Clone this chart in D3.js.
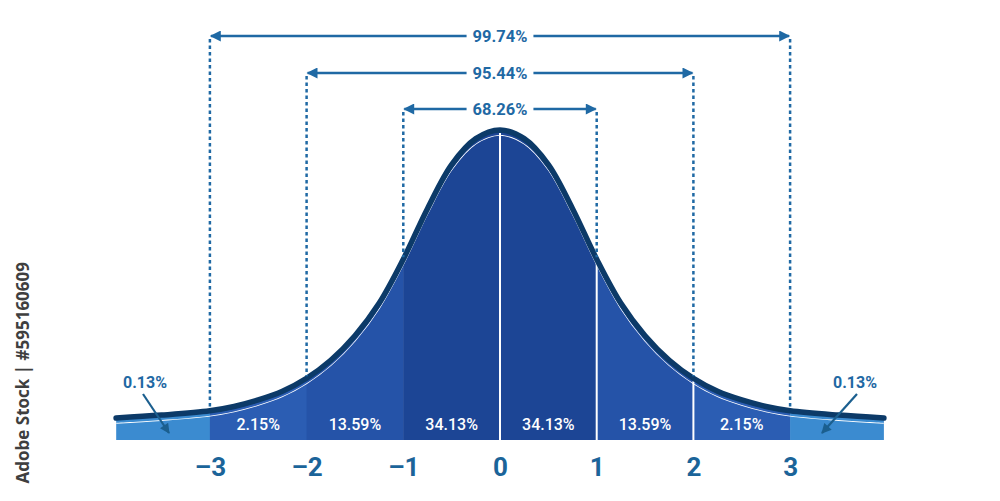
<!DOCTYPE html>
<html>
<head>
<meta charset="utf-8">
<script src="https://cdn.jsdelivr.net/npm/d3@7"></script>
<style>
  body { margin: 0; background: #fff; }
  svg { display: block; }
</style>
</head>
<body>
<div id="chart"></div>
<script>
const WIDTH = 1000;
const HEIGHT = 501;
const BAND_BOTTOM = 440;

// curve (x in sigma, height as density)
const curveX = [-3.97, -3.5, -3, -2.75, -2.5, -2.25, -2, -1.75, -1.5, -1.25, -1, -0.75, -0.5, -0.25, 0,
  0.25, 0.5, 0.75, 1, 1.25, 1.5, 1.75, 2, 2.25, 2.5, 2.75, 3, 3.5, 3.97];
const curveY = [0, 0.004, 0.010, 0.016, 0.025, 0.037, 0.055, 0.080, 0.114, 0.159, 0.220, 0.290, 0.351, 0.387, 0.399,
  0.387, 0.351, 0.290, 0.220, 0.159, 0.114, 0.080, 0.055, 0.037, 0.025, 0.016, 0.010, 0.004, 0];

const sectionBounds = [-3.97, -3, -2, -1, 0, 1, 2, 3, 3.97];
const sectionLabels = ["0.13%", "2.15%", "13.59%", "34.13%", "34.13%", "13.59%", "2.15%", "0.13%"];
const sectionColors = ["#3b8bd0", "#2b5db3", "#2553a8", "#1c4595", "#1c4595", "#2553a8", "#2b5db3", "#3b8bd0"];
const dividers = [0, 1, 2];

const spans = [3, 2, 1];
const spanLabels = ["99.74%", "95.44%", "68.26%"];
const spanY = [36, 73, 109];

const tickValues = [-3, -2, -1, 0, 1, 2, 3];
const tickLabels = ["–3", "–2", "–1", "0", "1", "2", "3"];

const BLUE = "#1f69a4";
const NAVY = "#0c3a68";

const points = curveX.map((x, i) => ({ x: x, y: curveY[i] }));

const x = d3.scaleLinear().domain([-4, 4]).range([113.2, 886.8]);
const y = d3.scaleLinear().domain([0, 0.399]).range([418, 130]);

const svg = d3.select("#chart").append("svg")
  .attr("width", WIDTH)
  .attr("height", HEIGHT);

const defs = svg.append("defs");

defs.append("marker")
  .attr("id", "arrow")
  .attr("viewBox", "0 0 10 10")
  .attr("refX", 9)
  .attr("refY", 5)
  .attr("markerUnits", "userSpaceOnUse")
  .attr("markerWidth", 13)
  .attr("markerHeight", 11)
  .attr("orient", "auto-start-reverse")
  .append("path")
  .attr("d", "M0,0 L10,5 L0,10 Z")
  .attr("fill", BLUE);

defs.append("marker")
  .attr("id", "arrowNavy")
  .attr("viewBox", "0 0 10 10")
  .attr("refX", 9)
  .attr("refY", 5)
  .attr("markerUnits", "userSpaceOnUse")
  .attr("markerWidth", 11)
  .attr("markerHeight", 10)
  .attr("orient", "auto")
  .append("path")
  .attr("d", "M0,0 L10,5 L0,10 Z")
  .attr("fill", "#1b5f8f");

const line = d3.line()
  .x(d => x(d.x))
  .y(d => y(d.y))
  .curve(d3.curveCatmullRom);

const area = d3.area()
  .x(d => x(d.x))
  .y0(BAND_BOTTOM)
  .y1(d => y(d.y))
  .curve(d3.curveCatmullRom);

defs.append("clipPath")
  .attr("id", "under")
  .append("path")
  .attr("d", area(points));

// curve height at one of the listed sigma values
function curveAt(v) {
  const i = curveX.indexOf(v);
  return curveY[i];
}

// coloured sections under the curve
const sections = sectionLabels.map((lab, i) => ({
  a: sectionBounds[i], b: sectionBounds[i + 1], label: lab, color: sectionColors[i]
}));

svg.append("g")
  .attr("clip-path", "url(#under)")
  .selectAll("rect")
  .data(sections)
  .join("rect")
  .attr("x", d => x(d.a))
  .attr("width", d => x(d.b) - x(d.a) + 0.5)
  .attr("y", y(0.42))
  .attr("height", BAND_BOTTOM - y(0.42))
  .attr("fill", d => d.color);

// white dividers
svg.append("g")
  .selectAll("line")
  .data(dividers)
  .join("line")
  .attr("x1", d => x(d))
  .attr("x2", d => x(d))
  .attr("y1", d => y(curveAt(d)) + 3)
  .attr("y2", BAND_BOTTOM)
  .attr("stroke", "#fff")
  .attr("stroke-width", 2);

// inner white line and main curve
svg.append("path")
  .attr("d", line(points))
  .attr("transform", "translate(0,5)")
  .attr("clip-path", "url(#under)")
  .attr("fill", "none")
  .attr("stroke", "#fff")
  .attr("stroke-width", 1.6);

svg.append("path")
  .attr("d", line(points))
  .attr("fill", "none")
  .attr("stroke", NAVY)
  .attr("stroke-width", 5.5)
  .attr("stroke-linecap", "round");

// band labels
svg.append("g")
  .selectAll("text")
  .data(sections.slice(1, -1))
  .join("text")
  .attr("x", d => x((d.a + d.b) / 2))
  .attr("y", 430)
  .attr("text-anchor", "middle")
  .attr("fill", "#fff")
  .attr("font-family", "Roboto, sans-serif")
  .attr("font-weight", 500)
  .attr("font-size", 16)
  .text(d => d.label);

// dotted guides and span arrows
const spanG = svg.append("g");
spans.forEach((k, i) => {
  [-k, k].forEach(v => {
    spanG.append("line")
      .attr("x1", x(v)).attr("x2", x(v))
      .attr("y1", spanY[i] + 3)
      .attr("y2", y(curveAt(v)) - 2)
      .attr("stroke", BLUE)
      .attr("stroke-width", 2.5)
      .attr("stroke-dasharray", "3.5,3");
  });
  spanG.append("line")
    .attr("x1", x(-k) + 1).attr("x2", x(k) - 1)
    .attr("y1", spanY[i]).attr("y2", spanY[i])
    .attr("stroke", BLUE)
    .attr("stroke-width", 2.5)
    .attr("marker-start", "url(#arrow)")
    .attr("marker-end", "url(#arrow)");
  const t = spanG.append("text")
    .attr("x", x(0))
    .attr("y", spanY[i] + 6)
    .attr("text-anchor", "middle")
    .attr("fill", BLUE)
    .attr("font-family", "Roboto, sans-serif")
    .attr("font-weight", 700)
    .attr("font-size", 16.5)
    .text(spanLabels[i]);
  const bb = t.node().getBBox();
  spanG.insert("rect", () => t.node())
    .attr("x", bb.x - 6)
    .attr("y", bb.y)
    .attr("width", bb.width + 12)
    .attr("height", bb.height)
    .attr("fill", "#fff");
});

// tail labels with arrows
const tails = [
  { label: sectionLabels[0], tx: 145, x1: 143, y1: 394, x2: 169, y2: 433 },
  { label: sectionLabels[7], tx: 855, x1: 857, y1: 394, x2: 822, y2: 433 }
];
svg.append("g")
  .selectAll("line")
  .data(tails)
  .join("line")
  .attr("x1", d => d.x1).attr("y1", d => d.y1)
  .attr("x2", d => d.x2).attr("y2", d => d.y2)
  .attr("stroke", "#1b5f8f")
  .attr("stroke-width", 2.2)
  .attr("marker-end", "url(#arrowNavy)");

svg.append("g")
  .selectAll("text")
  .data(tails)
  .join("text")
  .attr("x", d => d.tx)
  .attr("y", 388)
  .attr("text-anchor", "middle")
  .attr("fill", BLUE)
  .attr("font-family", "Roboto, sans-serif")
  .attr("font-weight", 700)
  .attr("font-size", 16)
  .text(d => d.label);

// x axis labels
const axis = d3.axisBottom(x)
  .tickValues(tickValues)
  .tickFormat((d, i) => tickLabels[i])
  .tickSize(0)
  .tickPadding(0);

const axisG = svg.append("g")
  .attr("transform", "translate(0,455)")
  .call(axis);
axisG.select(".domain").remove();
axisG.selectAll("text")
  .attr("dy", "0.8em")
  .attr("fill", "#1b6499")
  .attr("font-family", "Roboto, sans-serif")
  .attr("font-weight", 700)
  .attr("font-size", 26);

// side stamp
svg.append("text")
  .attr("transform", "translate(29,262) rotate(-90)")
  .attr("text-anchor", "end")
  .attr("fill", "#3f3f3f")
  .attr("font-family", "'Open Sans', sans-serif")
  .attr("font-weight", 700)
  .attr("font-size", 17)
  .text("Adobe Stock | #595160609");
</script>
</body>
</html>
